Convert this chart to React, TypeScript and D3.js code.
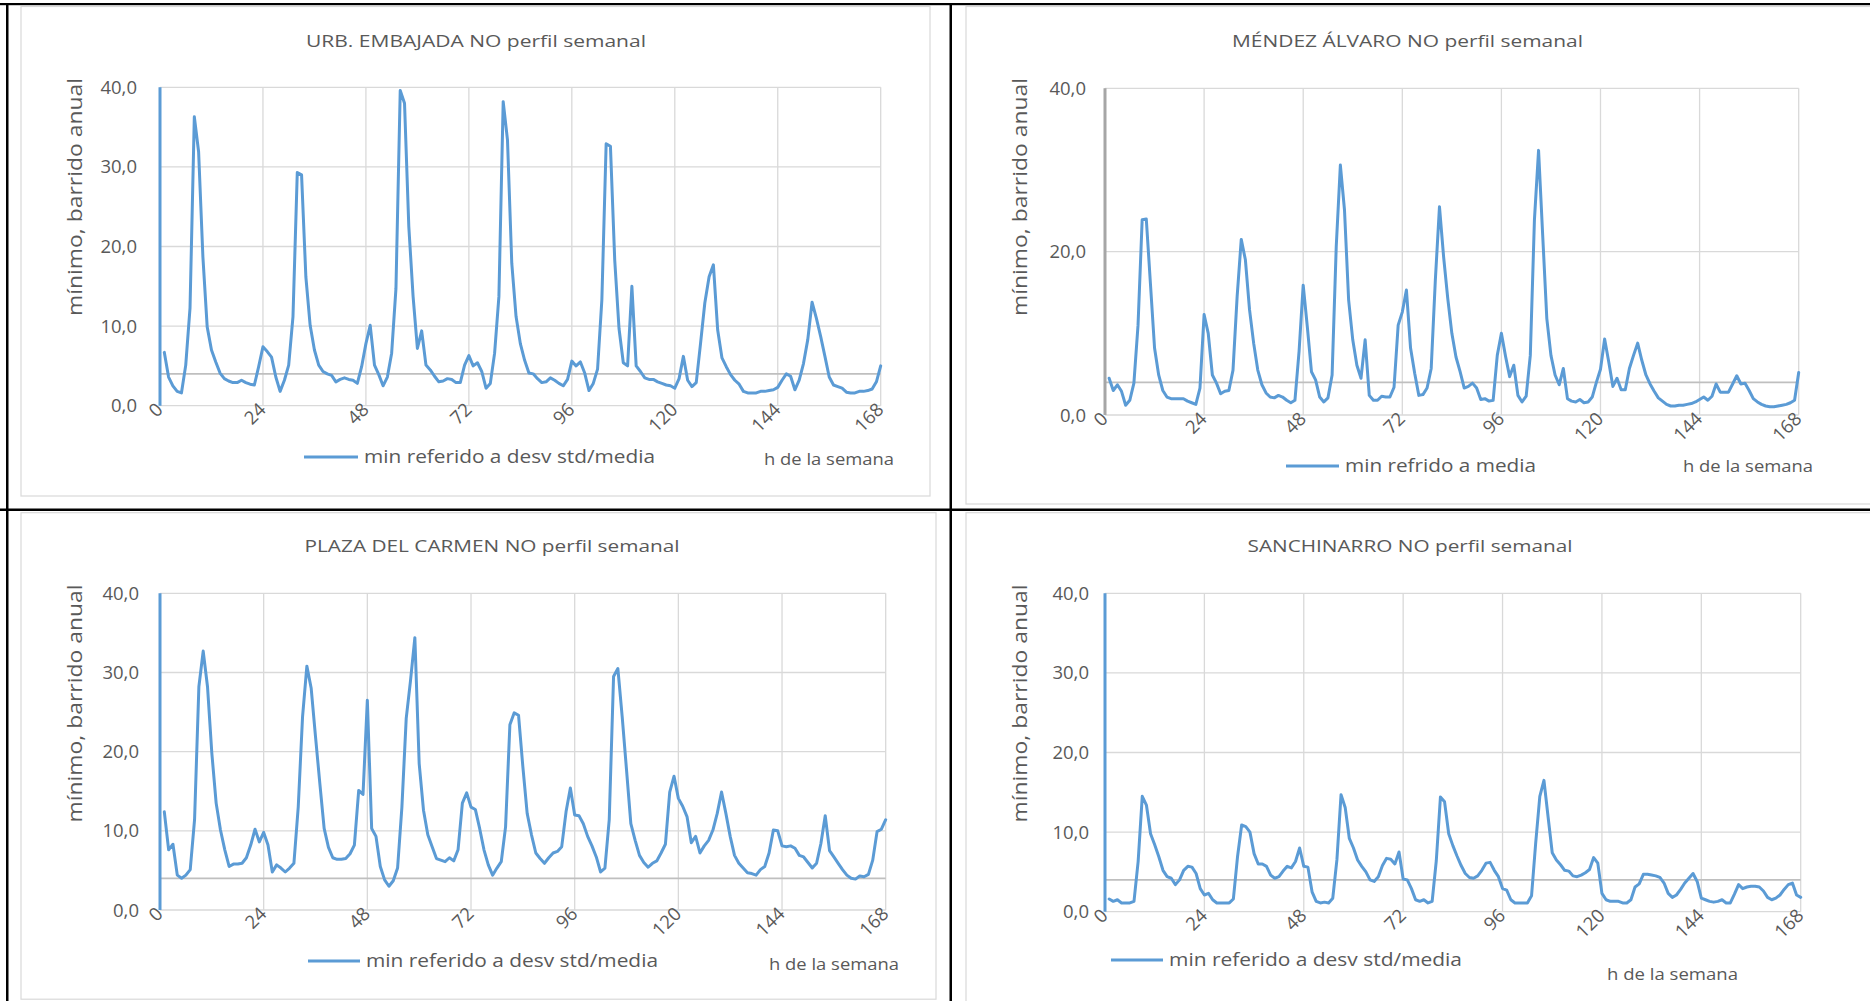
import React from "react";
import * as d3 from "d3";

const hours: number[] = d3.range(1, 169);
const xTicks: number[] = [0, 24, 48, 72, 96, 120, 144, 168];
const yTicksFine: number[] = [0, 10, 20, 30, 40];
const yTicksCoarse: number[] = [0, 20, 40];
const threshold = 4;

const titles: string[] = [
  "URB. EMBAJADA NO perfil semanal",
  "MÉNDEZ ÁLVARO NO perfil semanal",
  "PLAZA DEL CARMEN NO perfil semanal",
  "SANCHINARRO NO perfil semanal",
];
const legendLabels: string[] = [
  "min referido a desv std/media",
  "min refrido a media",
  "min referido a desv std/media",
  "min referido a desv std/media",
];
const yAxisTitle = "mínimo, barrido anual";
const xAxisTitle = "h de la semana";

const urbEmbajada: number[] = [
  6.7, 3.6, 2.5, 1.8, 1.6, 5.1, 12.3, 36.3, 31.9, 18.7,
  9.9, 7.0, 5.5, 4.1, 3.4, 3.1, 2.9, 2.9, 3.2, 2.9,
  2.7, 2.6, 4.9, 7.4, 6.8, 6.1, 3.6, 1.8, 3.2, 5.1,
  11.2, 29.3, 29.0, 16.2, 10.1, 7.0, 5.1, 4.3, 4.0, 3.8,
  3.0, 3.3, 3.5, 3.3, 3.2, 2.8, 4.9, 7.8, 10.1, 5.1,
  3.9, 2.5, 3.6, 6.6, 14.7, 39.6, 38.0, 22.5, 13.7, 7.2,
  9.4, 5.1, 4.5, 3.7, 3.0, 3.1, 3.4, 3.3, 2.9, 2.9,
  5.1, 6.3, 5.0, 5.4, 4.3, 2.2, 2.8, 6.6, 13.7, 38.2,
  33.4, 17.9, 11.2, 7.8, 5.7, 4.1, 4.0, 3.4, 2.9, 3.0,
  3.5, 3.2, 2.8, 2.5, 3.3, 5.6, 5.0, 5.5, 4.1, 1.9,
  2.8, 4.6, 13.3, 32.9, 32.6, 18.3, 9.7, 5.4, 5.0, 15.0,
  5.0, 4.3, 3.5, 3.3, 3.3, 3.0, 2.8, 2.6, 2.5, 2.2,
  3.4, 6.2, 3.2, 2.4, 2.9, 7.8, 12.9, 16.2, 17.7, 9.5,
  6.0, 4.9, 3.9, 3.2, 2.7, 1.8, 1.6, 1.6, 1.6, 1.8,
  1.8, 1.9, 2.0, 2.3, 3.2, 4.0, 3.7, 2.0, 3.2, 5.3,
  8.3, 13.0, 11.0, 8.7, 6.2, 3.6, 2.6, 2.4, 2.2, 1.7,
  1.6, 1.6, 1.8, 1.8, 1.9, 2.1, 3.0, 5.0,
];

const mendezAlvaro: number[] = [
  4.5, 3.0, 3.7, 2.9, 1.2, 1.8, 3.9, 11.0, 23.9, 24.0,
  16.1, 8.2, 4.9, 3.0, 2.2, 2.0, 2.0, 2.0, 2.0, 1.7,
  1.5, 1.3, 3.3, 12.3, 10.0, 4.9, 3.9, 2.6, 2.9, 3.0,
  5.5, 14.5, 21.5, 19.0, 12.9, 8.8, 5.5, 3.7, 2.7, 2.2,
  2.1, 2.4, 2.2, 1.8, 1.5, 1.8, 7.8, 15.9, 10.8, 5.3,
  4.3, 2.2, 1.6, 2.1, 4.9, 20.6, 30.6, 25.1, 14.1, 9.2,
  6.1, 4.5, 9.2, 2.4, 1.8, 1.8, 2.3, 2.2, 2.2, 3.4,
  11.0, 12.6, 15.3, 8.2, 5.1, 2.4, 2.5, 3.3, 5.7, 16.5,
  25.5, 19.4, 14.3, 10.0, 7.1, 5.3, 3.3, 3.5, 3.9, 3.3,
  1.9, 2.0, 1.7, 1.8, 7.3, 10.0, 7.2, 4.7, 6.1, 2.4,
  1.6, 2.3, 7.3, 23.9, 32.4, 22.0, 11.8, 7.3, 4.9, 3.7,
  5.7, 2.0, 1.7, 1.6, 1.9, 1.5, 1.6, 2.2, 4.0, 5.6,
  9.3, 6.5, 3.5, 4.5, 3.1, 3.1, 5.7, 7.3, 8.8, 6.7,
  4.9, 3.8, 2.9, 2.1, 1.7, 1.3, 1.1, 1.1, 1.2, 1.2,
  1.3, 1.4, 1.6, 1.9, 2.2, 1.8, 2.3, 3.8, 2.8, 2.8,
  2.8, 3.8, 4.8, 3.8, 3.9, 3.0, 2.0, 1.6, 1.3, 1.1,
  1.0, 1.0, 1.1, 1.2, 1.3, 1.5, 1.8, 5.2,
];

const plazaCarmen: number[] = [
  12.4, 7.6, 8.3, 4.4, 4.0, 4.4, 5.1, 11.4, 28.2, 32.7,
  28.2, 19.8, 13.5, 10.1, 7.6, 5.5, 5.8, 5.8, 5.9, 6.6,
  8.2, 10.2, 8.6, 9.8, 8.2, 4.8, 5.7, 5.3, 4.8, 5.3,
  5.9, 13.0, 24.4, 30.8, 28.0, 21.9, 16.0, 10.3, 7.9, 6.6,
  6.4, 6.4, 6.5, 7.1, 8.2, 15.1, 14.6, 26.5, 10.3, 9.3,
  5.5, 3.8, 3.0, 3.7, 5.3, 13.0, 24.2, 29.0, 34.4, 18.5,
  12.6, 9.5, 8.0, 6.5, 6.3, 6.1, 6.6, 6.2, 7.6, 13.5,
  14.8, 13.0, 12.7, 10.3, 7.6, 5.7, 4.4, 5.3, 6.1, 10.5,
  23.4, 24.9, 24.6, 18.1, 12.2, 9.5, 7.2, 6.5, 5.9, 6.6,
  7.2, 7.4, 8.0, 12.4, 15.4, 12.0, 11.9, 10.9, 9.3, 8.1,
  6.7, 4.8, 5.3, 11.4, 29.5, 30.5, 24.4, 17.7, 10.9, 8.8,
  6.9, 6.0, 5.4, 5.9, 6.2, 7.2, 8.3, 14.9, 16.9, 14.1,
  13.1, 11.8, 8.5, 9.3, 7.2, 8.1, 8.8, 10.1, 12.2, 14.9,
  12.2, 9.3, 6.9, 5.9, 5.3, 4.7, 4.6, 4.4, 5.1, 5.5,
  7.2, 10.1, 10.0, 8.1, 8.0, 8.1, 7.8, 6.9, 6.7, 6.0,
  5.3, 5.9, 8.4, 11.9, 7.5, 6.7, 5.9, 5.1, 4.4, 4.0,
  3.9, 4.3, 4.2, 4.5, 6.3, 9.9, 10.2, 11.4,
];

const sanchinarro: number[] = [
  1.6, 1.3, 1.5, 1.1, 1.1, 1.1, 1.3, 6.3, 14.5, 13.4,
  9.8, 8.4, 6.9, 5.2, 4.4, 4.2, 3.4, 4.0, 5.2, 5.7,
  5.6, 4.8, 2.9, 2.1, 2.3, 1.5, 1.1, 1.1, 1.1, 1.1,
  1.6, 6.9, 10.9, 10.7, 10.0, 7.3, 6.0, 6.0, 5.7, 4.6,
  4.2, 4.4, 5.1, 5.7, 5.5, 6.3, 8.0, 5.7, 5.6, 2.5,
  1.3, 1.1, 1.2, 1.1, 1.7, 6.5, 14.7, 13.1, 9.2, 8.0,
  6.5, 5.7, 5.0, 4.0, 3.8, 4.4, 5.8, 6.7, 6.6, 6.0,
  7.5, 4.1, 4.0, 2.9, 1.5, 1.3, 1.5, 1.1, 1.3, 6.4,
  14.4, 13.8, 9.8, 8.3, 7.0, 5.8, 4.8, 4.3, 4.2, 4.5,
  5.2, 6.1, 6.2, 5.2, 4.4, 2.9, 2.7, 1.5, 1.1, 1.1,
  1.1, 1.1, 2.0, 8.6, 14.5, 16.5, 11.9, 7.4, 6.5, 5.9,
  5.2, 5.1, 4.5, 4.4, 4.6, 4.9, 5.3, 6.8, 6.1, 2.3,
  1.5, 1.3, 1.3, 1.3, 1.1, 1.1, 1.5, 3.1, 3.5, 4.7,
  4.7, 4.6, 4.5, 4.3, 3.6, 2.3, 1.8, 2.1, 2.8, 3.6,
  4.2, 4.8, 3.8, 1.7, 1.5, 1.3, 1.2, 1.3, 1.5, 1.1,
  1.1, 2.2, 3.4, 2.9, 3.1, 3.2, 3.2, 3.1, 2.6, 1.8,
  1.5, 1.7, 2.1, 2.8, 3.4, 3.6, 2.1, 1.8,
];

const seriesList: number[][] = [urbEmbajada, mendezAlvaro, plazaCarmen, sanchinarro];
const yTickSets: number[][] = [yTicksFine, yTicksCoarse, yTicksFine, yTicksFine];

// layout (positions / styles only)
const BLUE = "#5b9bd5";
const TEXT = "#595959";
const GRID = "#d9d9d9";
const FONT = "'Open Sans', 'Noto Sans', sans-serif";

type Layout = {
  x0: number; x1: number; yb: number; yt: number;
  tickRight: number; yTitleX: number; yTitleCy: number;
  titleCx: number; titleY: number; titleLen: number;
  legX1: number; legX2: number; legY: number; legTextX: number; legTextLen: number; legTextY: number;
  hX: number; hY: number; hLen: number;
  frame: [number, number, number, number];
  axisColor: string; axisWidth: number;
};

const layouts: Layout[] = [
  { x0: 160, x1: 880.7, yb: 405.7, yt: 87.3, tickRight: 137, yTitleX: 82, yTitleCy: 197,
    titleCx: 476, titleY: 47, titleLen: 340,
    legX1: 304, legX2: 358, legY: 457, legTextX: 364, legTextLen: 291, legTextY: 463,
    hX: 764, hY: 464.5, hLen: 130, frame: [21, 6.5, 909, 489.5], axisColor: BLUE, axisWidth: 3 },
  { x0: 1105, x1: 1798.7, yb: 415, yt: 88.3, tickRight: 1086, yTitleX: 1027, yTitleCy: 197,
    titleCx: 1407.5, titleY: 47, titleLen: 351,
    legX1: 1286, legX2: 1339, legY: 466, legTextX: 1345, legTextLen: 191, legTextY: 472,
    hX: 1683, hY: 471.5, hLen: 130, frame: [966, 6.5, 912, 497.5], axisColor: "#a6a6a6", axisWidth: 3 },
  { x0: 160, x1: 885.7, yb: 910, yt: 593.3, tickRight: 139, yTitleX: 82, yTitleCy: 703.5,
    titleCx: 492, titleY: 551.5, titleLen: 375,
    legX1: 308, legX2: 360, legY: 961, legTextX: 366, legTextLen: 292, legTextY: 967,
    hX: 769, hY: 969.5, hLen: 130, frame: [21, 512.7, 915, 486.5], axisColor: BLUE, axisWidth: 3 },
  { x0: 1105, x1: 1800.7, yb: 911.7, yt: 593.3, tickRight: 1089, yTitleX: 1027, yTitleCy: 703.5,
    titleCx: 1410, titleY: 551.5, titleLen: 325,
    legX1: 1111, legX2: 1163, legY: 960, legTextX: 1169, legTextLen: 293, legTextY: 966,
    hX: 1607, hY: 979.5, hLen: 131, frame: [966, 512.7, 912, 500], axisColor: BLUE, axisWidth: 3 },
];

const fmt = (v: number) => d3.format(".1f")(v).replace(".", ",");

function Panel({ idx }: { idx: number }) {
  const L = layouts[idx];
  const data = seriesList[idx];
  const x = d3.scaleLinear().domain([0, 168]).range([L.x0, L.x1]);
  const y = d3.scaleLinear().domain([0, 40]).range([L.yb, L.yt]);
  const line = d3
    .line<number>()
    .x((_, i) => x(hours[i]))
    .y((d) => y(d));
  const path = line(data) || "";
  const [fx, fy, fw, fh] = L.frame;
  return (
    <g>
      <rect x={fx} y={fy} width={fw} height={fh} fill="#fff" stroke={GRID} strokeWidth={1.2} />
      <text x={L.titleCx} y={L.titleY} textAnchor="middle" fontSize={17} fill={TEXT}
        fontFamily={FONT} textLength={L.titleLen} lengthAdjust="spacingAndGlyphs">{titles[idx]}</text>
      {yTickSets[idx].map((t) => (
        <line key={"h" + t} x1={L.x0} x2={L.x1} y1={y(t)} y2={y(t)} stroke={GRID} strokeWidth={1.3} />
      ))}
      {xTicks.map((t) => (
        <line key={"v" + t} x1={x(t)} x2={x(t)} y1={L.yb} y2={L.yt} stroke={GRID} strokeWidth={1.3} />
      ))}
      <line x1={L.x0} x2={L.x1} y1={y(threshold)} y2={y(threshold)} stroke="#bfbfbf" strokeWidth={1.8} />
      <line x1={L.x0} x2={L.x0} y1={L.yb} y2={L.yt} stroke={L.axisColor} strokeWidth={L.axisWidth} />
      {yTickSets[idx].map((t) => (
        <text key={"yl" + t} x={L.tickRight} y={y(t) + 6.5} textAnchor="end" fontSize={18.5}
          fill={TEXT} fontFamily={FONT}>{fmt(t)}</text>
      ))}
      {xTicks.map((t) => (
        <text key={"xl" + t} transform={`translate(${x(t) + 4},${L.yb + 5}) rotate(-45)`}
          textAnchor="end" fontSize={18.5} fill={TEXT} fontFamily={FONT}>{String(t)}</text>
      ))}
      <text transform={`translate(${L.yTitleX},${L.yTitleCy}) rotate(-90)`} textAnchor="middle"
        fontSize={19.5} fill={TEXT} fontFamily={FONT} textLength={238}
        lengthAdjust="spacingAndGlyphs">{yAxisTitle}</text>
      <path d={path} fill="none" stroke={BLUE} strokeWidth={3} strokeLinejoin="round" strokeLinecap="round" />
      <line x1={L.legX1} x2={L.legX2} y1={L.legY} y2={L.legY} stroke={BLUE} strokeWidth={3.2} />
      <text x={L.legTextX} y={L.legTextY} fontSize={18} fill={TEXT} fontFamily={FONT}
        textLength={L.legTextLen} lengthAdjust="spacingAndGlyphs">{legendLabels[idx]}</text>
      <text x={L.hX} y={L.hY} fontSize={15.5} fill={TEXT} fontFamily={FONT}
        textLength={L.hLen} lengthAdjust="spacingAndGlyphs">{xAxisTitle}</text>
    </g>
  );
}

export default function App() {
  return (
    <svg width={1870} height={1001} viewBox="0 0 1870 1001"
      style={{ position: "absolute", left: 0, top: 0, background: "#fff" }}>
      <rect x={0} y={0} width={1870} height={1001} fill="#fff" />
      {[0, 1, 2, 3].map((i) => (
        <Panel key={i} idx={i} />
      ))}
      <rect x={0} y={3} width={1870} height={2.2} fill="#000" />
      <rect x={6} y={3} width={2.5} height={998} fill="#000" />
      <rect x={949.5} y={3} width={2.5} height={998} fill="#000" />
      <rect x={0} y={508.5} width={1870} height={2.5} fill="#000" />
    </svg>
  );
}
